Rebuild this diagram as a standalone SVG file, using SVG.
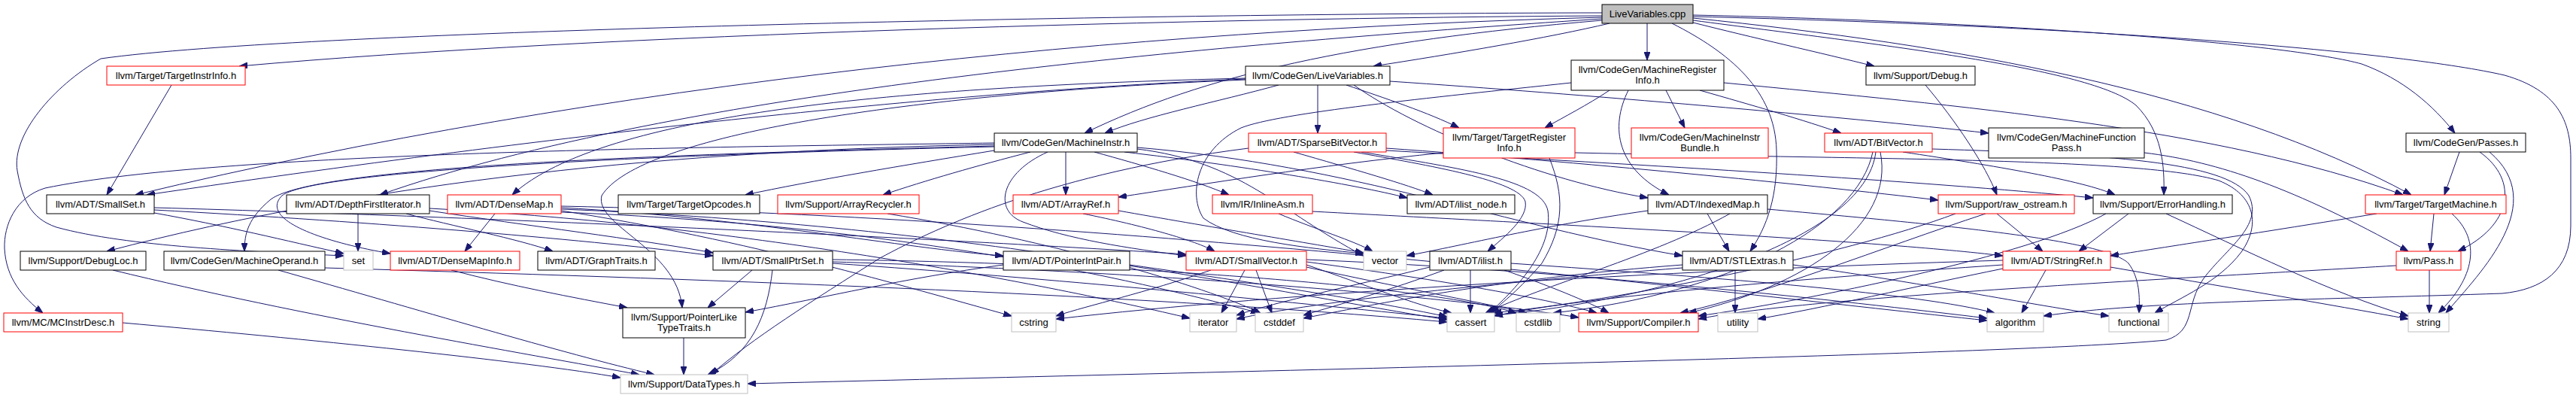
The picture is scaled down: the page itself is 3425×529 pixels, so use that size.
<svg xmlns="http://www.w3.org/2000/svg" width="3425" height="529" viewBox="0 0 3425 529">
<style>
rect{stroke-width:1}
.k{fill:#fff;stroke:#000}
.r{fill:#fff;stroke:#f00}
.g{fill:#fff;stroke:#bfbfbf}
.root{fill:#bfbfbf;stroke:#000}
text{font-family:"Liberation Sans",Arial,sans-serif;font-size:13px;text-anchor:middle;fill:#000}
#edges path{fill:none;stroke:#191970;stroke-width:1;marker-end:url(#a)}
</style>
<defs>
<marker id="a" viewBox="0 0 11 8" refX="11" refY="4" markerWidth="11" markerHeight="8" orient="auto" markerUnits="userSpaceOnUse"><path d="M0,0 L11,4 L0,8 z" fill="#191970" stroke="#191970" stroke-width="1"/></marker>
</defs>
<rect width="3425" height="529" fill="#fff"/>
<g id="edges">
<path d="M2130,21 C1600,24 800,45 318,88"/>
<path d="M2130,17 C1500,18 400,40 134,78 C70,115 15,180 23,227 C30,265 40,290 75,302 C170,328 330,334 457,340"/>
<path d="M2130,23 C1500,40 800,110 180,259"/>
<path d="M2130,25 C1600,60 900,120 505,259"/>
<path d="M2140,31 C2060,50 1930,72 1826,88"/>
<path d="M2130,27 C1800,55 1600,100 1442,177"/>
<path d="M2190,31 L2190,80"/>
<path d="M2223,31 C2300,70 2360,120 2362,200 C2364,260 2350,300 2327,334"/>
<path d="M2251,30 C2330,50 2420,70 2492,88"/>
<path d="M2251,27 C2500,60 2780,90 2840,140 C2875,175 2878,220 2877,259"/>
<path d="M2251,24 C2600,60 2950,120 3206,259"/>
<path d="M2251,20 C2700,30 3050,60 3140,85 C3195,105 3235,140 3264,177"/>
<path d="M2251,22 C2800,35 3200,70 3330,100 C3400,120 3418,160 3418,210 L3418,300 C3418,360 3380,385 3327,390 C3100,398 2850,400 2717,420"/>
<path d="M1752,113 L1752,177"/>
<path d="M1700,113 C1620,135 1520,155 1469,177"/>
<path d="M1790,113 C1840,130 1900,150 1940,170"/>
<path d="M1848,108 C2100,125 2450,155 2644,177"/>
<path d="M1800,113 C1880,170 2050,240 2191,263"/>
<path d="M1656,105 C1300,120 800,170 195,259"/>
<path d="M1656,104 C1200,115 800,150 681,259"/>
<path d="M1656,106 C1200,125 850,180 800,260 C790,300 900,330 907,409"/>
<path d="M1393,202 C1330,230 1320,280 1360,295 C1420,318 1500,330 1577,340"/>
<path d="M1322,192 C900,200 500,240 142,334"/>
<path d="M1322,194 C900,205 420,220 360,265 C330,290 325,310 325,334"/>
<path d="M1322,190 C1000,195 300,200 60,250 C20,262 5,300 6,330 C8,370 30,395 57,416"/>
<path d="M1322,195 C900,205 420,225 375,260 C345,290 420,320 519,337"/>
<path d="M1322,200 C1200,220 1080,240 991,259"/>
<path d="M1370,202 C1300,220 1230,240 1174,259"/>
<path d="M1417,202 L1417,259"/>
<path d="M1455,202 C1520,220 1590,240 1634,259"/>
<path d="M1495,202 C1650,220 1800,245 1871,263"/>
<path d="M1512,198 C1650,215 1700,280 1813,340"/>
<path d="M1512,196 C1800,220 2000,300 2237,340"/>
<path d="M1660,197 C1400,230 1250,300 1170,343 C1080,400 1000,450 945,498"/>
<path d="M1720,202 C1800,225 1870,245 1905,259"/>
<path d="M1800,202 C1900,220 2020,240 2028,268 C2032,290 2000,315 1978,334"/>
<path d="M1810,202 C1950,225 2050,240 2058,280 C2065,330 2020,380 1980,416"/>
<path d="M1843,197 C2100,215 2400,245 2577,266"/>
<path d="M1843,200 C2200,220 2550,240 2783,263"/>
<path d="M1919,203 C1750,220 1600,245 1487,262"/>
<path d="M2094,203 C2500,212 2850,210 2950,240 C3000,260 3005,300 2980,335 C2950,375 2900,395 2865,416"/>
<path d="M2060,210 C2080,260 2080,300 2050,350 C2020,385 2000,400 1982,416"/>
<path d="M2140,120 C2110,140 2080,155 2054,170"/>
<path d="M2165,120 C2140,170 2150,225 2219,259"/>
<path d="M2215,120 L2240,170"/>
<path d="M2260,120 C2330,140 2400,160 2448,177"/>
<path d="M2292,110 C2600,140 2950,170 3195,259"/>
<path d="M2089,110 C1900,130 1700,150 1650,170 C1590,200 1580,260 1600,290 C1640,320 1740,330 1813,337"/>
<path d="M2270,284 L2299,334"/>
<path d="M2191,280 C2050,300 1950,325 1870,340"/>
<path d="M2350,278 C2600,300 2800,320 2830,350 C2845,370 2845,395 2844,416"/>
<path d="M2300,284 C2200,340 2050,380 1975,416"/>
<path d="M476,284 L476,334"/>
<path d="M540,284 C600,300 690,318 735,334"/>
<path d="M571,280 C700,300 850,318 948,336"/>
<path d="M571,277 C1000,300 1400,380 1582,423"/>
<path d="M205,283 C300,300 380,320 457,337"/>
<path d="M205,279 C500,295 800,320 948,340"/>
<path d="M205,276 C700,290 1300,320 1577,338"/>
<path d="M228,113 L142,259"/>
<path d="M658,284 L618,334"/>
<path d="M746,276 C1000,290 1200,330 1334,340"/>
<path d="M746,280 C1000,320 1200,380 1345,420"/>
<path d="M746,282 C1200,300 1500,370 1674,416"/>
<path d="M746,278 C1300,300 1700,390 1924,425"/>
<path d="M746,274 C1500,290 2300,390 2642,426"/>
<path d="M600,359 C680,380 760,395 834,409"/>
<path d="M1000,359 L941,409"/>
<path d="M1027,359 C1020,420 1000,470 941,498"/>
<path d="M1107,350 C1400,370 1700,400 1924,423"/>
<path d="M1107,345 C1500,350 1900,380 2016,416"/>
<path d="M1107,348 C1500,360 1900,390 2099,422"/>
<path d="M1334,352 C1200,370 1100,395 991,415"/>
<path d="M1502,352 C1700,380 1850,405 1924,421"/>
<path d="M909,449 L909,498"/>
<path d="M163,429 C400,450 700,480 825,502"/>
<path d="M150,359 C400,420 700,470 850,498"/>
<path d="M370,359 C550,410 750,470 870,498"/>
<path d="M432,356 C900,370 1500,390 1924,428"/>
<path d="M1180,284 C1400,320 1600,380 1676,416"/>
<path d="M1440,284 C1520,300 1590,320 1615,334"/>
<path d="M1487,280 C1600,300 1750,325 1813,336"/>
<path d="M1745,281 C2100,300 2500,320 2663,340"/>
<path d="M1700,284 C1750,305 1800,320 1825,334"/>
<path d="M1610,359 C1520,390 1450,405 1404,420"/>
<path d="M1655,359 L1624,416"/>
<path d="M1670,359 L1691,416"/>
<path d="M1737,352 C1820,380 1880,405 1930,416"/>
<path d="M1737,348 C1900,370 2050,395 2123,416"/>
<path d="M1737,355 C1850,380 1960,400 2030,416"/>
<path d="M1737,345 C2100,360 2450,400 2642,423"/>
<path d="M1955,359 L1955,416"/>
<path d="M2000,359 C2060,380 2110,400 2139,416"/>
<path d="M1920,359 C1850,385 1780,405 1733,419"/>
<path d="M1901,355 C1800,380 1700,400 1644,419"/>
<path d="M2009,350 C2300,370 2550,390 2652,416"/>
<path d="M2307,359 L2307,416"/>
<path d="M2384,352 C2550,375 2700,405 2804,420"/>
<path d="M2237,352 C2000,370 1850,400 1733,423"/>
<path d="M2237,356 C2000,375 1750,400 1644,424"/>
<path d="M2720,359 L2688,416"/>
<path d="M2663,357 C2550,380 2420,410 2337,424"/>
<path d="M2663,352 C2400,370 2100,395 1987,420"/>
<path d="M2806,355 C2950,380 3100,405 3202,424"/>
<path d="M2663,346 C2200,360 1700,390 1404,424"/>
<path d="M2655,284 L2716,334"/>
<path d="M2640,284 C2500,330 2350,390 2234,416"/>
<path d="M2600,284 C2450,340 2150,400 1985,416"/>
<path d="M2830,284 L2764,334"/>
<path d="M2800,284 C2700,340 2400,400 2258,420"/>
<path d="M2880,284 C2980,330 3100,390 3202,420"/>
<path d="M2530,202 C2650,220 2770,240 2812,259"/>
<path d="M2490,202 C2470,300 2300,390 2065,416"/>
<path d="M2494,202 C2480,320 2200,400 1987,419"/>
<path d="M2500,202 C2520,300 2400,380 2245,416"/>
<path d="M2569,198 C2800,205 2960,215 2990,260 C3010,300 2960,330 2930,370 C2905,405 2920,440 2880,452 C2700,470 1800,490 994,510"/>
<path d="M2851,203 C2950,215 3050,250 3202,334"/>
<path d="M2560,113 C2600,160 2640,220 2655,259"/>
<path d="M3270,202 L3250,259"/>
<path d="M3297,202 C3350,240 3340,300 3268,334"/>
<path d="M3310,202 C3390,270 3300,360 3252,416"/>
<path d="M3236,284 L3231,334"/>
<path d="M3260,284 C3300,320 3290,370 3242,416"/>
<path d="M3160,284 C3000,310 2900,325 2806,340"/>
<path d="M3230,359 L3230,416"/>
<path d="M3186,353 C2900,370 2400,395 2258,424"/>
</g>
<g id="n_LiveVariables_cpp"><rect class="root" x="2130" y="6" width="121" height="25"/><text x="2190.5" y="23">LiveVariables.cpp</text></g>
<g id="n_TargetInstrInfo"><rect class="r" x="142" y="88" width="184" height="25"/><text x="234" y="105">llvm/Target/TargetInstrInfo.h</text></g>
<g id="n_LiveVariables_h"><rect class="k" x="1656" y="88" width="192" height="25"/><text x="1752" y="105">llvm/CodeGen/LiveVariables.h</text></g>
<g id="n_MachineRegisterInfo"><rect class="k" x="2089" y="80" width="203" height="40"/><text x="2190.5" y="97">llvm/CodeGen/MachineRegister</text><text x="2190.5" y="111">Info.h</text></g>
<g id="n_Debug"><rect class="k" x="2481" y="88" width="145" height="25"/><text x="2553.5" y="105">llvm/Support/Debug.h</text></g>
<g id="n_MachineInstr"><rect class="k" x="1322" y="177" width="190" height="25"/><text x="1417" y="194">llvm/CodeGen/MachineInstr.h</text></g>
<g id="n_SparseBitVector"><rect class="r" x="1660" y="177" width="183" height="25"/><text x="1751.5" y="194">llvm/ADT/SparseBitVector.h</text></g>
<g id="n_TargetRegisterInfo"><rect class="r" x="1919" y="170" width="175" height="40"/><text x="2006.5" y="187">llvm/Target/TargetRegister</text><text x="2006.5" y="201">Info.h</text></g>
<g id="n_MachineInstrBundle"><rect class="r" x="2169" y="170" width="182" height="40"/><text x="2260" y="187">llvm/CodeGen/MachineInstr</text><text x="2260" y="201">Bundle.h</text></g>
<g id="n_BitVector"><rect class="r" x="2426" y="177" width="143" height="25"/><text x="2497.5" y="194">llvm/ADT/BitVector.h</text></g>
<g id="n_MachineFunctionPass"><rect class="k" x="2644" y="170" width="207" height="40"/><text x="2747.5" y="187">llvm/CodeGen/MachineFunction</text><text x="2747.5" y="201">Pass.h</text></g>
<g id="n_Passes"><rect class="k" x="3199" y="177" width="159" height="25"/><text x="3278.5" y="194">llvm/CodeGen/Passes.h</text></g>
<g id="n_SmallSet"><rect class="k" x="62" y="259" width="143" height="25"/><text x="133.5" y="276">llvm/ADT/SmallSet.h</text></g>
<g id="n_DepthFirstIterator"><rect class="k" x="381" y="259" width="190" height="25"/><text x="476" y="276">llvm/ADT/DepthFirstIterator.h</text></g>
<g id="n_DenseMap"><rect class="r" x="595" y="259" width="151" height="25"/><text x="670.5" y="276">llvm/ADT/DenseMap.h</text></g>
<g id="n_TargetOpcodes"><rect class="k" x="822" y="259" width="188" height="25"/><text x="916" y="276">llvm/Target/TargetOpcodes.h</text></g>
<g id="n_ArrayRecycler"><rect class="r" x="1034" y="259" width="188" height="25"/><text x="1128" y="276">llvm/Support/ArrayRecycler.h</text></g>
<g id="n_ArrayRef"><rect class="r" x="1347" y="259" width="140" height="25"/><text x="1417" y="276">llvm/ADT/ArrayRef.h</text></g>
<g id="n_InlineAsm"><rect class="r" x="1612" y="259" width="133" height="25"/><text x="1678.5" y="276">llvm/IR/InlineAsm.h</text></g>
<g id="n_ilist_node"><rect class="k" x="1871" y="259" width="143" height="25"/><text x="1942.5" y="276">llvm/ADT/ilist_node.h</text></g>
<g id="n_IndexedMap"><rect class="k" x="2191" y="259" width="159" height="25"/><text x="2270.5" y="276">llvm/ADT/IndexedMap.h</text></g>
<g id="n_raw_ostream"><rect class="r" x="2577" y="259" width="181" height="25"/><text x="2667.5" y="276">llvm/Support/raw_ostream.h</text></g>
<g id="n_ErrorHandling"><rect class="k" x="2783" y="259" width="185" height="25"/><text x="2875.5" y="276">llvm/Support/ErrorHandling.h</text></g>
<g id="n_TargetMachine"><rect class="r" x="3145" y="259" width="187" height="25"/><text x="3238.5" y="276">llvm/Target/TargetMachine.h</text></g>
<g id="n_DebugLoc"><rect class="k" x="27" y="334" width="167" height="25"/><text x="110.5" y="351">llvm/Support/DebugLoc.h</text></g>
<g id="n_MachineOperand"><rect class="k" x="218" y="334" width="214" height="25"/><text x="325" y="351">llvm/CodeGen/MachineOperand.h</text></g>
<g id="n_set"><rect class="g" x="457" y="334" width="39" height="25"/><text x="476.5" y="351">set</text></g>
<g id="n_DenseMapInfo"><rect class="r" x="519" y="334" width="172" height="25"/><text x="605" y="351">llvm/ADT/DenseMapInfo.h</text></g>
<g id="n_GraphTraits"><rect class="k" x="715" y="334" width="156" height="25"/><text x="793" y="351">llvm/ADT/GraphTraits.h</text></g>
<g id="n_SmallPtrSet"><rect class="k" x="948" y="334" width="159" height="25"/><text x="1027.5" y="351">llvm/ADT/SmallPtrSet.h</text></g>
<g id="n_PointerIntPair"><rect class="k" x="1334" y="334" width="168" height="25"/><text x="1418" y="351">llvm/ADT/PointerIntPair.h</text></g>
<g id="n_SmallVector"><rect class="r" x="1577" y="334" width="160" height="25"/><text x="1657" y="351">llvm/ADT/SmallVector.h</text></g>
<g id="n_vector"><rect class="g" x="1813" y="334" width="57" height="25"/><text x="1841.5" y="351">vector</text></g>
<g id="n_ilist"><rect class="k" x="1901" y="334" width="108" height="25"/><text x="1955" y="351">llvm/ADT/ilist.h</text></g>
<g id="n_STLExtras"><rect class="k" x="2237" y="334" width="147" height="25"/><text x="2310.5" y="351">llvm/ADT/STLExtras.h</text></g>
<g id="n_StringRef"><rect class="r" x="2663" y="334" width="143" height="25"/><text x="2734.5" y="351">llvm/ADT/StringRef.h</text></g>
<g id="n_Pass"><rect class="r" x="3186" y="334" width="86" height="25"/><text x="3229" y="351">llvm/Pass.h</text></g>
<g id="n_PointerLikeTypeTraits"><rect class="k" x="828" y="409" width="163" height="40"/><text x="909.5" y="426">llvm/Support/PointerLike</text><text x="909.5" y="440">TypeTraits.h</text></g>
<g id="n_MCInstrDesc"><rect class="r" x="5" y="416" width="158" height="25"/><text x="84" y="433">llvm/MC/MCInstrDesc.h</text></g>
<g id="n_cstring"><rect class="g" x="1345" y="416" width="59" height="25"/><text x="1374.5" y="433">cstring</text></g>
<g id="n_iterator"><rect class="g" x="1582" y="416" width="62" height="25"/><text x="1613" y="433">iterator</text></g>
<g id="n_cstddef"><rect class="g" x="1669" y="416" width="64" height="25"/><text x="1701" y="433">cstddef</text></g>
<g id="n_cassert"><rect class="g" x="1924" y="416" width="63" height="25"/><text x="1955.5" y="433">cassert</text></g>
<g id="n_cstdlib"><rect class="g" x="2016" y="416" width="58" height="25"/><text x="2045" y="433">cstdlib</text></g>
<g id="n_Compiler"><rect class="r" x="2099" y="416" width="159" height="25"/><text x="2178.5" y="433">llvm/Support/Compiler.h</text></g>
<g id="n_utility"><rect class="g" x="2284" y="416" width="53" height="25"/><text x="2310.5" y="433">utility</text></g>
<g id="n_algorithm"><rect class="g" x="2642" y="416" width="75" height="25"/><text x="2679.5" y="433">algorithm</text></g>
<g id="n_functional"><rect class="g" x="2804" y="416" width="79" height="25"/><text x="2843.5" y="433">functional</text></g>
<g id="n_string"><rect class="g" x="3202" y="416" width="54" height="25"/><text x="3229" y="433">string</text></g>
<g id="n_DataTypes"><rect class="g" x="825" y="498" width="169" height="25"/><text x="909.5" y="515">llvm/Support/DataTypes.h</text></g>
</svg>
